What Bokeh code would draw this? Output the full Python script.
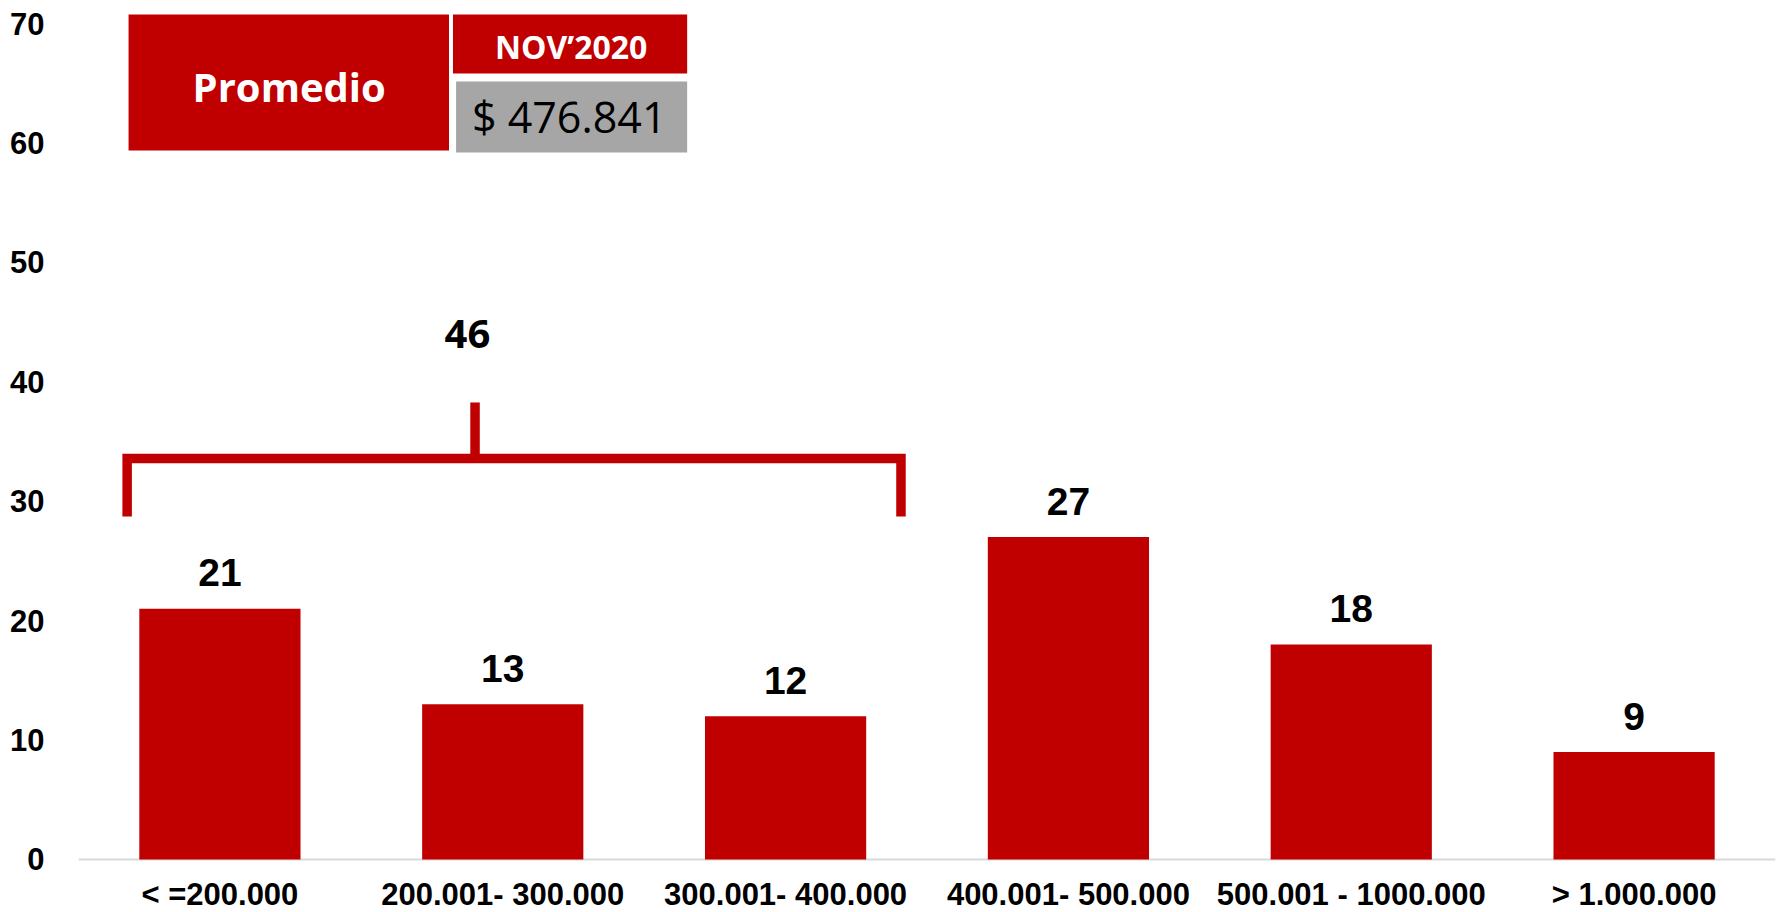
from bokeh.plotting import figure
from bokeh.models import Range1d, FixedTicker, Span
from bokeh.core.properties import value
from bokeh.embed import file_html
from bokeh.resources import INLINE

# ---- data ----
categories = ["< =200.000", "200.001- 300.000", "300.001- 400.000",
              "400.001- 500.000", "500.001 - 1000.000", "> 1.000.000"]
counts = [21, 13, 12, 27, 18, 9]
y_ticks = [0, 10, 20, 30, 40, 50, 60, 70]
group_members = [0, 1, 2]          # categories grouped by the bracket
table_title = "Promedio"
table_period = "NOV\u20192020"
table_value = "$ 476.841"

RED = "#C00000"
GRAY = "#A6A6A6"
FONT = "Liberation Sans"

n = len(categories)
xs = [i + 0.5 for i in range(n)]
group_total = sum(counts[i] for i in group_members)

p = figure(width=1781, height=912, output_backend="svg", toolbar_location=None,
           x_range=Range1d(0, n), y_range=Range1d(-4.438, 71.09),
           x_axis_location=None, min_border_left=78, min_border_right=6,
           min_border_top=10, min_border_bottom=0)
p.outline_line_color = None
p.xgrid.visible = False
p.ygrid.visible = False
p.background_fill_color = "white"
p.border_fill_color = "white"

# y axis
ya = p.yaxis[0]
ya.ticker = FixedTicker(ticks=y_ticks)
ya.axis_line_color = None
ya.major_tick_line_color = None
ya.minor_tick_line_color = None
ya.major_label_text_font = FONT
ya.major_label_text_font_style = "bold"
ya.major_label_text_font_size = "31px"
ya.major_label_text_color = "black"
ya.major_label_standoff = 28

# baseline
p.add_layout(Span(location=0, dimension="width", line_color="#D9D9D9",
                  line_width=2, level="underlay"))

# bars
p.vbar(x=xs, top=counts, width=0.57, bottom=0, fill_color=RED, line_color=None)

# value labels
p.text(x=xs, y=[c + 3.0 for c in counts], text=[str(c) for c in counts],
       text_font=value(FONT), text_font_style="bold", text_font_size="39px",
       text_align="center", text_baseline="alphabetic", text_color="black")

# category labels
p.text(x=xs, y=[-2.95] * n, text=categories,
       text_font=value(FONT), text_font_style="bold", text_font_size="31px",
       text_align="center", text_baseline="alphabetic", text_color="black")

# bracket over grouped categories
b_left = group_members[0] + 0.172
b_right = group_members[-1] + 0.908
b_stem = 1.402
b_low, b_mid, b_high = 28.72, 33.58, 38.27
p.line(x=[b_left, b_left, b_right, b_right], y=[b_low, b_mid, b_mid, b_low],
       line_color=RED, line_width=9.5, line_join="miter", line_cap="butt")
p.line(x=[b_stem, b_stem], y=[b_mid, b_high], line_color=RED, line_width=9.5,
       line_cap="butt")
p.text(x=[1.375], y=[44.0], text=[str(group_total)],
       text_font=value("Open Sans"), text_font_style="bold", text_font_size="40px",
       text_align="center", text_baseline="alphabetic", text_color="black")

# summary table (top-left)
p.quad(left=[0.177], right=[1.310], top=[70.75], bottom=[59.37],
       fill_color=RED, line_color=None)
p.quad(left=[1.324], right=[2.152], top=[70.75], bottom=[65.81],
       fill_color=RED, line_color=None)
p.quad(left=[1.335], right=[2.152], top=[65.14], bottom=[59.20],
       fill_color=GRAY, line_color=None)
p.text(x=[0.745], y=[64.7], text=[table_title], text_font=value("Open Sans"),
       text_font_style="bold", text_font_size="40px", text_align="center",
       text_baseline="alphabetic", text_color="white")
p.text(x=[1.742], y=[68.1], text=[table_period], text_font=value("Open Sans"),
       text_font_style="bold", text_font_size="32px", text_align="center",
       text_baseline="alphabetic", text_color="white")
p.text(x=[1.735], y=[62.2], text=[table_value], text_font=value("Open Sans"),
       text_font_size="43px", text_align="center",
       text_baseline="alphabetic", text_color="black")

open("out.html", "w").write(file_html(p, INLINE))
